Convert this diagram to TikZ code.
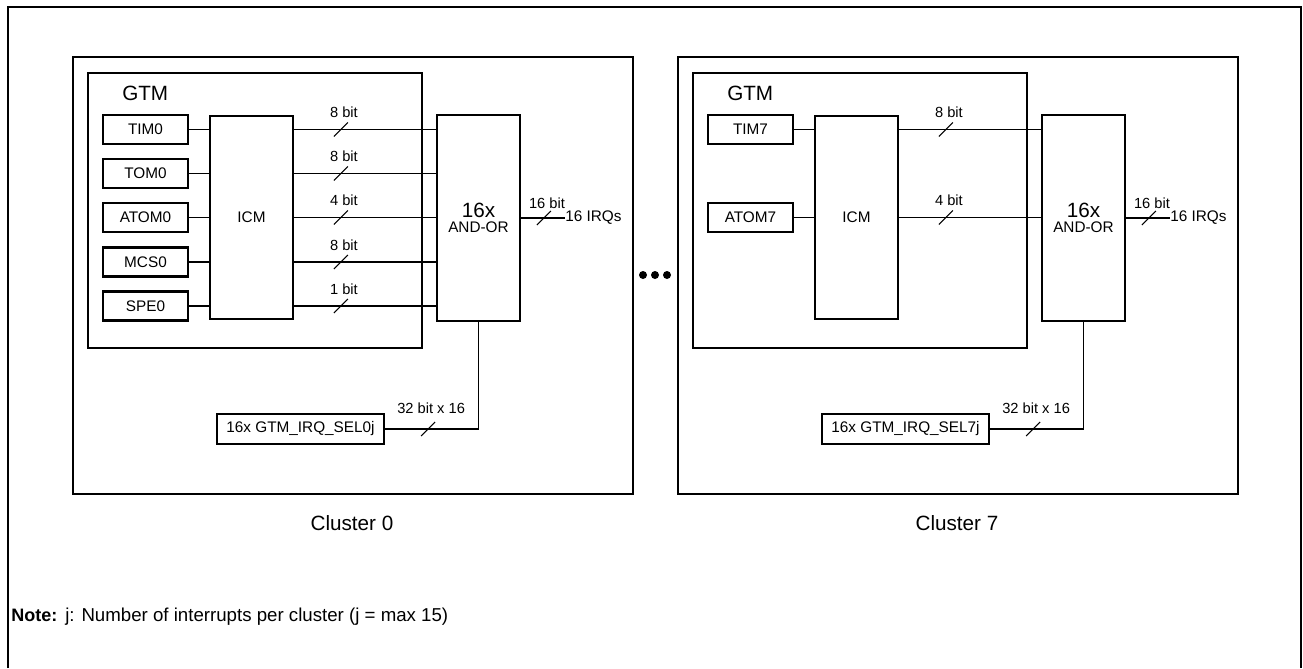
\documentclass[tikz,border=0pt]{standalone}
\usepackage{fontspec}
\setmainfont{Liberation Sans}
\usetikzlibrary{calc}

% slash on a bus line, with its width written above it
\newcommand{\busmark}[3][-17]{%
  \draw[wire] ($(#2)+(-7,7)$) -- ($(#2)+(7,-7)$);
  \node[bitlbl] (#2-lbl) at ($(#2)+(3,#1)$) {#3};}

\begin{document}
\begin{tikzpicture}[x=0.75pt,y=-0.75pt,
    frame/.style={line width=1.9pt},
    wire/.style={line width=0.8pt},
    unit/.style={draw,line width=1.8pt,inner sep=0pt,minimum width=63.75pt,minimum height=21.75pt,font=\fontsize{11.5}{13}\selectfont},
    tallbox/.style={draw,line width=1.8pt,inner sep=0pt,minimum width=62.25pt,minimum height=#1},
    bitlbl/.style={inner sep=0pt,font=\fontsize{11}{12}\selectfont},
    bigtxt/.style={inner sep=0pt,font=\fontsize{15.5}{17}\selectfont}]
  \useasboundingbox (0,0) rectangle (1303,668);
  \draw[line width=2.2pt] (8,668) -- (8,7) -- (1301,7) -- (1301,668);

  % cluster 0
  \draw[frame] (73,57) rectangle (633,494);
  \draw[frame] (88,73) rectangle (422,348);
  \node[bigtxt,anchor=west] (gtm0) at (122,93) {GTM};
  \node[unit] (tim0) at (145.5,129.5) {TIM0};
  \node[unit] (tom0) at (145.5,173.5) {TOM0};
  \node[unit] (atom0) at (145.5,217.5) {ATOM0};
  \node[unit] (mcs0) at (145.5,262) {MCS0};
  \node[unit] (spe0) at (145.5,306) {SPE0};
  \node[tallbox=152.25pt,font=\fontsize{11.5}{13}\selectfont] (icm0) at (251.5,217.5) {ICM};
  \node[tallbox=154.5pt,align=center] (and0) at (478.5,218)
    {{\fontsize{15.5}{17}\selectfont 16x}\\[-1pt]{\fontsize{11.5}{13}\selectfont AND-OR}};
  \foreach \u/\b in {tim0/8,tom0/8,atom0/4,mcs0/8,spe0/1} {
    \draw[wire] (\u) -- (\u -| icm0.west);
    \draw[wire] (\u -| icm0.east) -- coordinate[pos=0.33] (m-\u) (\u -| and0.west);
    \busmark{m-\u}{\b\ bit}
  }
  \node[bitlbl,anchor=west,font=\fontsize{11.5}{13}\selectfont] (irq0) at (565,218) {16 IRQs};
  \draw[wire] (and0.east |- irq0) -- coordinate[pos=0.52] (o0) (irq0.west);
  \busmark[-15]{o0}{16 bit}
  \node[unit,minimum width=125.25pt,minimum height=22.5pt] (sel0) at (300.5,429) {16x GTM\_IRQ\_SEL0j};
  \draw[wire] (sel0) -| coordinate[pos=0.23] (s0) (and0);
  \busmark[-21]{s0}{32 bit x 16}
  \node[bigtxt] (cl0) at (352,523) {Cluster 0};

  % cluster 7
  \begin{scope}[shift={(605,0)}]
    \draw[frame] (73,57) rectangle (633,494);
    \draw[frame] (88,73) rectangle (422,348);
    \node[bigtxt,anchor=west] (gtm7) at (122,93) {GTM};
    \node[unit] (tim7) at (145.5,129.5) {TIM7};
    \node[unit] (atom7) at (145.5,217.5) {ATOM7};
    \node[tallbox=152.25pt,font=\fontsize{11.5}{13}\selectfont] (icm7) at (251.5,217.5) {ICM};
    \node[tallbox=154.5pt,align=center] (and7) at (478.5,218)
      {{\fontsize{15.5}{17}\selectfont 16x}\\[-1pt]{\fontsize{11.5}{13}\selectfont AND-OR}};
    \foreach \u/\b in {tim7/8,atom7/4} {
      \draw[wire] (\u) -- (\u -| icm7.west);
      \draw[wire] (\u -| icm7.east) -- coordinate[pos=0.33] (m-\u) (\u -| and7.west);
      \busmark{m-\u}{\b\ bit}
    }
    \node[bitlbl,anchor=west,font=\fontsize{11.5}{13}\selectfont] (irq7) at (565,218) {16 IRQs};
    \draw[wire] (and7.east |- irq7) -- coordinate[pos=0.52] (o7) (irq7.west);
    \busmark[-15]{o7}{16 bit}
    \node[unit,minimum width=125.25pt,minimum height=22.5pt] (sel7) at (300.5,429) {16x GTM\_IRQ\_SEL7j};
    \draw[wire] (sel7) -| coordinate[pos=0.23] (s7) (and7);
    \busmark[-21]{s7}{32 bit x 16}
    \node[bigtxt] (cl7) at (352,523) {Cluster 7};
  \end{scope}

  % dots between the clusters
  \foreach \x in {643,655,667}
    \fill (\x,275) circle (3pt);

  \node[anchor=base west,inner sep=0pt,font=\fontsize{13.5}{15}\selectfont\bfseries] (note) at (11,621) {Note:};
  \node[anchor=base west,inner sep=0pt,font=\fontsize{14}{16}\selectfont] (notetxt) at (65,621)
    {j: Number of interrupts per cluster (j = max 15)};
\end{tikzpicture}
\end{document}
